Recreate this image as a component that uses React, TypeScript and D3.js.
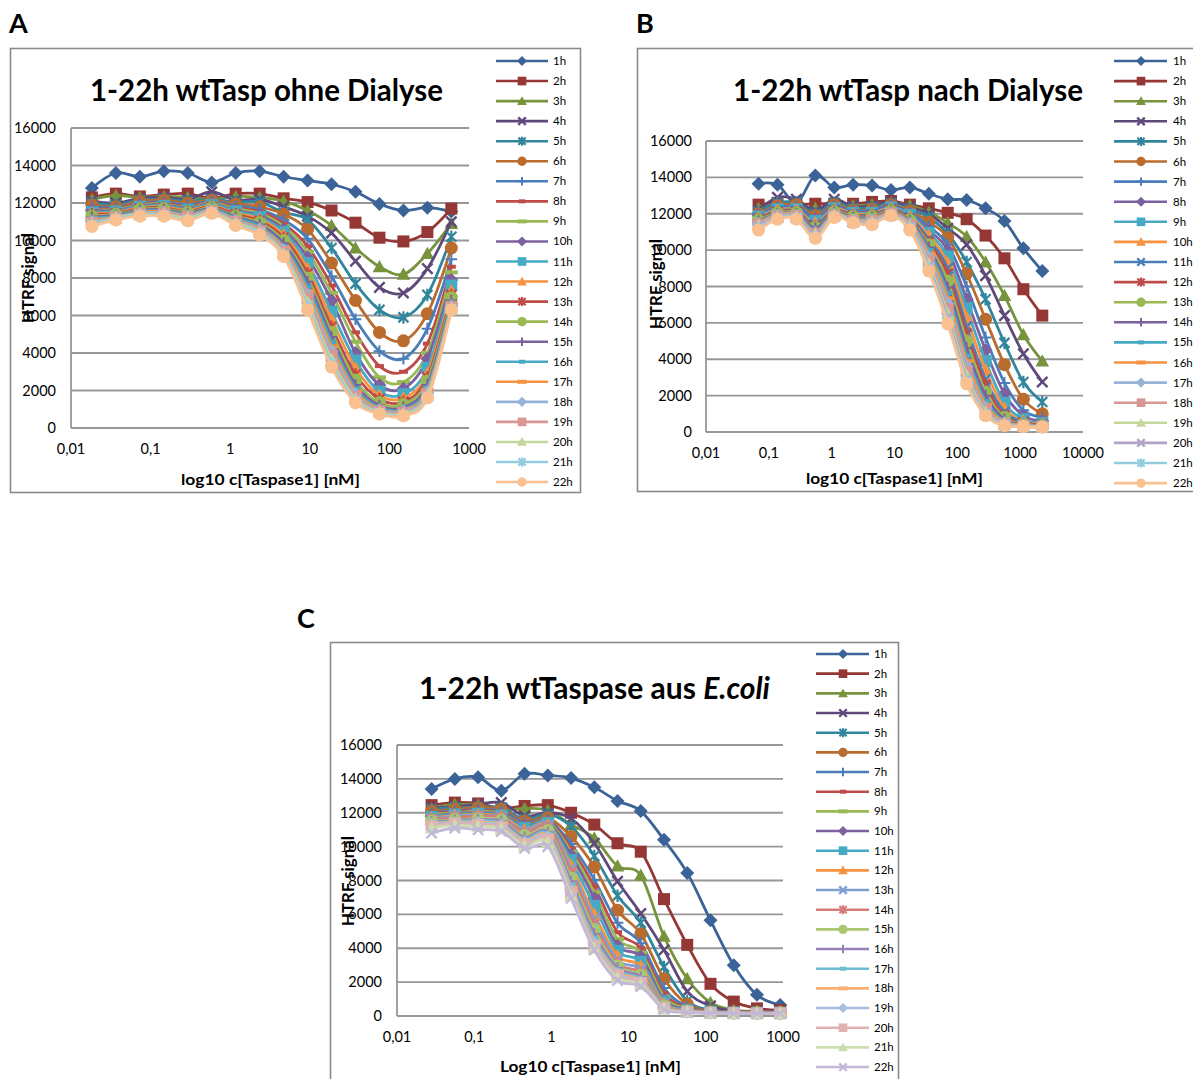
import React from 'react';
import * as d3 from 'd3';

// ---------- DATA ----------
const hours = ["1h","2h","3h","4h","5h","6h","7h","8h","9h","10h","11h","12h","13h","14h","15h","16h","17h","18h","19h","20h","21h","22h"];

const yTicks = [0, 2000, 4000, 6000, 8000, 10000, 12000, 14000, 16000];
const xTicksA = [0.01, 0.1, 1, 10, 100, 1000];
const xTickLabelsA = ["0,01", "0,1", "1", "10", "100", "1000"];
const xTicksB = [0.01, 0.1, 1, 10, 100, 1000, 10000];
const xTickLabelsB = ["0,01", "0,1", "1", "10", "100", "1000", "10000"];
const xTicksC = [0.01, 0.1, 1, 10, 100, 1000];
const xTickLabelsC = ["0,01", "0,1", "1", "10", "100", "1000"];

// concentrations [nM]
const concA = [0.01831, 0.03662, 0.07324, 0.1465, 0.293, 0.5859, 1.172, 2.344, 4.688, 9.375, 18.75, 37.5, 75, 150, 300, 600];
const concB = [0.06866, 0.1373, 0.2747, 0.5493, 1.099, 2.197, 4.395, 8.789, 17.58, 35.16, 70.31, 140.6, 281.3, 562.5, 1125, 2250];
const concC = [0.02808, 0.05615, 0.1123, 0.2246, 0.4492, 0.8984, 1.797, 3.594, 7.188, 14.38, 28.75, 57.5, 115, 230, 460, 920];

// A: wtTasp ohne Dialyse (rows = 1h..22h)
const valuesA: number[][] = [
  [12800,13600,13400,13700,13600,13100,13600,13700,13400,13200,13000,12600,11950,11600,11750,11550],
  [12300,12500,12350,12450,12500,12250,12500,12500,12250,12050,11600,10950,10150,9950,10450,11700],
  [12200,12400,12300,12350,12300,12200,12350,12300,12100,11600,10800,9600,8600,8200,9300,10900],
  [12100,12000,12250,12300,12200,12600,12150,12200,11800,11300,10400,8900,7500,7200,8500,11000],
  [12000,11900,12150,12200,12100,12200,12050,12050,11500,11100,9600,7700,6300,5900,7100,10200],
  [11900,11800,12100,12150,12000,12150,11950,11800,11400,10600,8800,6800,5100,4650,6100,9600],
  [11800,11750,12000,12050,11900,12100,11850,11650,11100,10100,8100,5800,4100,3700,5300,9000],
  [11700,11700,11950,12000,11800,12050,11750,11550,10900,9700,7600,5100,3300,3000,4500,8600],
  [11650,11650,11900,11950,11750,12000,11700,11450,10750,9400,7200,4600,2700,2450,4000,8300],
  [11600,11600,11850,11900,11700,11950,11600,11350,10600,9100,6800,4000,2300,2100,3700,7900],
  [11500,11550,11800,11850,11650,11900,11550,11250,10450,8800,6200,3600,1950,1800,3200,7600],
  [11450,11500,11750,11800,11600,11850,11450,11150,10300,8500,5800,3200,1750,1600,2900,7300],
  [11400,11450,11700,11750,11550,11800,11400,11050,10150,8250,5400,2850,1550,1400,2700,7100],
  [11300,11400,11650,11700,11500,11750,11300,10950,10000,8000,5100,2550,1350,1250,2500,6950],
  [11250,11350,11600,11650,11450,11700,11250,10850,9850,7800,4850,2300,1200,1100,2300,6800],
  [11200,11300,11550,11600,11400,11650,11200,10750,9700,7550,4600,2100,1100,1000,2150,6700],
  [11100,11250,11500,11550,11350,11600,11100,10650,9600,7300,4350,1950,1000,950,2000,6600],
  [11000,11250,11450,11500,11300,11600,11050,10600,9500,7100,4100,1800,950,900,1900,6500],
  [10950,11200,11400,11450,11250,11550,11000,10500,9400,6900,3850,1650,900,800,1800,6450],
  [10900,11200,11400,11400,11200,11500,10950,10450,9300,6700,3650,1550,850,750,1750,6400],
  [10850,11150,11350,11350,11100,11500,10850,10400,9200,6500,3450,1450,800,700,1650,6350],
  [10750,11100,11300,11300,11050,11450,10800,10300,9150,6300,3250,1350,750,650,1600,6300],
];

// B: wtTasp nach Dialyse
const valuesB: number[][] = [
  [13650,13600,12600,14100,13450,13600,13550,13300,13450,13100,12800,12750,12300,11600,10100,8850],
  [12500,12600,12500,12550,12550,12550,12650,12700,12500,12300,12050,11700,10800,9550,7850,6400],
  [12300,12500,12450,12300,12500,12450,12500,12600,12450,12100,11500,10750,9350,7500,5350,3900],
  [12200,12900,12800,12150,12800,12400,12450,12650,12350,12000,11200,10300,8600,6400,4300,2750],
  [12100,12600,12600,12000,12600,12300,12350,12550,12250,11800,10900,9350,7300,4900,2750,1650],
  [12000,12450,12500,11900,12500,12200,12250,12500,12150,11550,10700,8700,6200,3700,1800,1000],
  [11950,12350,12400,11800,12400,12150,12200,12450,12050,11300,10300,8000,5200,2700,1200,800],
  [11900,12300,12300,11700,12350,12100,12100,12400,12000,11100,10000,7300,4500,2100,900,600],
  [11850,12250,12250,11600,12300,12050,12050,12350,11950,10950,9650,6800,3900,1600,700,500],
  [11800,12200,12200,11500,12250,12000,12000,12300,11850,10800,9300,6300,3400,1300,600,450],
  [11750,12150,12150,11400,12200,11950,11950,12250,11800,10600,9000,5800,2900,1100,550,400],
  [11700,12100,12100,11300,12150,11900,11900,12200,11700,10450,8700,5400,2600,900,500,380],
  [11650,12050,12050,11250,12100,11850,11850,12150,11650,10300,8300,5000,2200,800,450,350],
  [11600,12000,12000,11200,12050,11800,11800,12100,11600,10150,7950,4600,2000,700,420,330],
  [11550,11980,11980,11100,12000,11750,11750,12050,11550,10000,7650,4200,1700,600,400,320],
  [11500,11950,11950,11000,11980,11700,11700,12050,11500,9800,7350,3900,1500,550,380,310],
  [11450,11900,11900,10950,11950,11650,11650,12000,11450,9600,7050,3600,1300,500,360,300],
  [11400,11850,11850,10900,11900,11600,11600,12000,11350,9400,6750,3300,1200,450,340,290],
  [11350,11800,11800,10850,11900,11600,11550,11950,11300,9250,6500,3100,1100,420,320,280],
  [11300,11780,11780,10800,11850,11550,11500,11950,11250,9100,6300,2900,1000,400,310,270],
  [11200,11750,11750,10700,11850,11500,11450,11900,11200,9000,6100,2800,950,380,300,260],
  [11100,11700,11700,10650,11800,11500,11400,11900,11100,8850,5950,2650,900,350,300,270],
];

// C: wtTaspase aus E.coli
const valuesC: number[][] = [
  [13400,14000,14100,13300,14300,14200,14050,13500,12700,12100,10400,8450,5650,3000,1250,650],
  [12450,12600,12550,12250,12400,12450,12000,11300,10200,9700,6900,4200,1900,850,450,350],
  [12250,12500,12450,12150,12250,12150,11300,10500,8850,8300,4700,2200,800,350,280,260],
  [12300,12350,12500,12600,11800,12000,11650,10200,7950,6050,3900,1450,600,300,260,250],
  [12200,12300,12300,12300,11600,11900,11200,9450,7100,5500,2900,900,350,270,250,240],
  [12100,12200,12300,12200,11500,11700,10600,8800,6250,4850,2200,700,300,250,240,230],
  [12000,12100,12200,12100,11400,11600,10150,8050,5500,4300,1650,550,280,240,230,220],
  [11950,12050,12150,12000,11300,11550,9900,7650,4950,4000,1350,480,270,230,220,210],
  [11900,12000,12100,11950,11250,11500,9700,7300,4550,3750,1150,420,260,220,210,200],
  [11800,11950,12000,11900,11200,11450,9500,6950,4150,3500,950,380,250,210,200,200],
  [11750,11900,11950,11850,11100,11400,9200,6500,3850,3200,850,350,240,200,190,190],
  [11700,11850,11900,11800,11000,11300,8900,6000,3550,2950,750,330,230,200,190,190],
  [11650,11800,11850,11750,10900,11250,8700,5700,3300,2750,700,320,220,190,180,180],
  [11600,11700,11800,11700,10800,11150,8450,5400,3100,2550,650,300,210,190,180,180],
  [11500,11600,11650,11550,10650,10950,8150,5100,2950,2400,600,290,200,180,170,170],
  [11450,11550,11600,11500,10550,10850,7950,4850,2850,2300,560,280,200,180,170,170],
  [11400,11500,11550,11400,10450,10750,7750,4600,2700,2200,520,270,190,170,160,160],
  [11350,11450,11450,11300,10350,10650,7550,4400,2600,2100,500,260,190,170,160,160],
  [11300,11400,11400,11250,10250,10550,7400,4250,2500,2000,480,250,180,160,150,150],
  [11200,11350,11300,11150,10150,10400,7250,4100,2400,1950,460,240,180,160,150,150],
  [11100,11250,11200,11050,10050,10250,7100,4000,2250,1850,440,230,170,150,150,150],
  [10800,11100,11000,10900,9900,10000,6950,3900,2100,1750,400,220,170,150,150,150],
];

// ---------- STYLES ----------
const D = ["#3B6398", "#953735", "#77933C", "#5F497A", "#31859C", "#BA6C2E"];
const N = ["#4A7EBB", "#BE4B48", "#98B954", "#7D60A0", "#46AAC5", "#F69240"];
const L = ["#95B3D7", "#D99694", "#C3D69B", "#B3A2C7", "#93CDDD", "#FAC090"];
const M = ["#7F9FD2", "#D57B79", "#A9C670", "#9881B6", "#6FBCD2", "#F9AE72"];
const P = ["#A7BEDE", "#E0B2B0", "#CCDDB0", "#C4B8D8"];

const colorsA = [...D, ...N, N[1], N[2], N[3], N[4], N[5], L[0], L[1], L[2], L[4], L[5]];
const colorsB = [...D, N[0], N[3], N[4], N[5], N[0], N[1], N[2], N[3], N[4], N[5], L[0], L[1], L[2], L[3], L[4], L[5]];
const colorsC = [...D, ...N, ...M, ...P];

type Mk = 'diamond' | 'square' | 'triangle' | 'x' | 'star' | 'circle' | 'plus' | 'dash' | 'longdash';
const base9: Mk[] = ['diamond', 'square', 'triangle', 'x', 'star', 'circle', 'plus', 'dash', 'longdash'];
const markersA: Mk[] = [...base9, 'diamond', 'square', 'triangle', 'star', 'circle', 'plus', 'dash', 'longdash', 'diamond', 'square', 'triangle', 'star', 'circle'];
const markersB: Mk[] = ['diamond', 'square', 'triangle', 'x', 'star', 'circle', 'plus', 'diamond', 'square', 'triangle', 'x', 'star', 'circle', 'plus', 'dash', 'longdash', 'diamond', 'square', 'triangle', 'x', 'star', 'circle'];
const markersC: Mk[] = [...base9, 'diamond', 'square', 'triangle', 'x', 'star', 'circle', 'plus', 'dash', 'longdash', 'diamond', 'square', 'triangle', 'x'];

const FONT = "Lato, 'Liberation Sans', Arial, sans-serif";

function marker(type: Mk, cx: number, cy: number, color: string, s: number, key: string) {
  switch (type) {
    case 'diamond': {
      const r = 7 * s;
      return <path key={key} d={`M${cx},${cy - r}L${cx + r},${cy}L${cx},${cy + r}L${cx - r},${cy}Z`} fill={color} />;
    }
    case 'square': {
      const r = 6 * s;
      return <rect key={key} x={cx - r} y={cy - r} width={2 * r} height={2 * r} fill={color} />;
    }
    case 'triangle': {
      const r = 6.8 * s;
      return <path key={key} d={`M${cx},${cy - r}L${cx + r},${cy + r * 0.8}L${cx - r},${cy + r * 0.8}Z`} fill={color} />;
    }
    case 'circle':
      return <circle key={key} cx={cx} cy={cy} r={6.5 * s} fill={color} />;
    case 'x': {
      const r = 5.2 * s;
      return <path key={key} d={`M${cx - r},${cy - r}L${cx + r},${cy + r}M${cx - r},${cy + r}L${cx + r},${cy - r}`} stroke={color} strokeWidth={2.4} fill="none" />;
    }
    case 'star': {
      const r = 5 * s;
      return <path key={key} d={`M${cx - r},${cy - r}L${cx + r},${cy + r}M${cx - r},${cy + r}L${cx + r},${cy - r}M${cx},${cy - r * 1.25}L${cx},${cy + r * 1.25}`} stroke={color} strokeWidth={2.2} fill="none" />;
    }
    case 'plus': {
      const r = 5.8 * s;
      return <path key={key} d={`M${cx - r},${cy}L${cx + r},${cy}M${cx},${cy - r}L${cx},${cy + r}`} stroke={color} strokeWidth={2} fill="none" />;
    }
    case 'dash':
      return <rect key={key} x={cx - 4.5 * s} y={cy - 2} width={9 * s} height={4} fill={color} />;
    case 'longdash':
      return <rect key={key} x={cx - 6.5 * s} y={cy - 2} width={13 * s} height={4} fill={color} />;
  }
  return null;
}

interface Cfg {
  label: string; labelX: number; labelY: number;
  frame: [number, number, number, number];
  px0: number; px1: number; py0: number; py1: number;
  xDomain: [number, number];
  xTicks: number[]; xTickLabels: string[];
  yLabelRight: number; xLabelY: number;
  title: React.ReactNode; titleX: number; titleY: number; titleLen: number;
  xTitle: string; xTitleX: number; xTitleY: number; xTitleLen: number;
  yTitleX: number; yTitleY: number;
  legX0: number; legX1: number; legMX: number; legTX: number; legY0: number; legDY: number;
  conc: number[]; values: number[][]; colors: string[]; markers: Mk[];
}

function Panel({ c }: { c: Cfg }) {
  const xs = d3.scaleLog().domain(c.xDomain).range([c.px0, c.px1]);
  const ys = d3.scaleLinear().domain([0, 16000]).range([c.py1, c.py0]);
  const line = d3.line<number>()
    .x((_, i) => xs(c.conc[i]))
    .y(d => ys(d))
    .curve(d3.curveCardinal.tension(0));
  const grid = '#979797';
  return (
    <g fontFamily={FONT}>
      <text x={c.labelX} y={c.labelY} fontSize={27} fontWeight="bold" fill="#000">{c.label}</text>
      <rect x={c.frame[0]} y={c.frame[1]} width={c.frame[2]} height={c.frame[3]} fill="#fff" stroke="#8a8a8a" strokeWidth={1.6} />
      {yTicks.map(t => (
        <g key={'y' + t}>
          <line x1={c.px0} x2={c.px1} y1={ys(t)} y2={ys(t)} stroke={grid} strokeWidth={1.8} />
          <text x={c.yLabelRight} y={ys(t) + 5} fontSize={14.5} textAnchor="end" fill="#000">{t}</text>
        </g>
      ))}
      <line x1={c.px0} x2={c.px0} y1={c.py0} y2={c.py1} stroke={grid} strokeWidth={1.8} />
      {c.xTicks.map((t, i) => (
        <text key={'x' + t} x={xs(t)} y={c.xLabelY} fontSize={14.5} textAnchor="middle" fill="#000">{c.xTickLabels[i]}</text>
      ))}
      <text x={c.titleX} y={c.titleY} fontSize={30} fontWeight="bold" textAnchor="middle" textLength={c.titleLen} lengthAdjust="spacingAndGlyphs" fill="#000">{c.title}</text>
      <text x={c.xTitleX} y={c.xTitleY} fontSize={16} fontWeight="bold" textAnchor="middle" textLength={c.xTitleLen} lengthAdjust="spacingAndGlyphs" fill="#000">{c.xTitle}</text>
      <text transform={`translate(${c.yTitleX},${c.yTitleY}) rotate(-90)`} fontSize={17} fontWeight="bold" textAnchor="middle" textLength={90} lengthAdjust="spacingAndGlyphs" fill="#000">HTRF signal</text>
      {c.values.map((vals, si) => (
        <g key={'s' + si}>
          <path d={line(vals) || ''} fill="none" stroke={c.colors[si]} strokeWidth={2.8} />
          {vals.map((v, i) => marker(c.markers[si], xs(c.conc[i]), ys(v), c.colors[si], 1, `m${si}-${i}`))}
        </g>
      ))}
      {hours.map((h, i) => {
        const y = c.legY0 + i * c.legDY;
        return (
          <g key={'l' + h}>
            <line x1={c.legX0} x2={c.legX1} y1={y} y2={y} stroke={c.colors[i]} strokeWidth={2.6} />
            {marker(c.markers[i], c.legMX, y, c.colors[i], 0.72, 'lm' + i)}
            <text x={c.legTX} y={y + 4} fontSize={11.5} fill="#000">{h}</text>
          </g>
        );
      })}
    </g>
  );
}

const cfgA: Cfg = {
  label: 'A', labelX: 9, labelY: 33,
  frame: [10.5, 48.5, 570, 444],
  px0: 71, px1: 469, py0: 128, py1: 428,
  xDomain: [0.01, 1000], xTicks: xTicksA, xTickLabels: xTickLabelsA,
  yLabelRight: 56, xLabelY: 454,
  title: '1-22h wtTasp ohne Dialyse', titleX: 266.5, titleY: 101, titleLen: 353,
  xTitle: 'log10 c[Taspase1] [nM]', xTitleX: 270.5, xTitleY: 485, xTitleLen: 179,
  yTitleX: 34, yTitleY: 278,
  legX0: 496, legX1: 548, legMX: 522, legTX: 553, legY0: 61, legDY: 20.05,
  conc: concA, values: valuesA, colors: colorsA, markers: markersA,
};

const cfgB: Cfg = {
  label: 'B', labelX: 636, labelY: 33,
  frame: [637.5, 48.5, 580, 443],
  px0: 706, px1: 1083, py0: 141, py1: 432,
  xDomain: [0.01, 10000], xTicks: xTicksB, xTickLabels: xTickLabelsB,
  yLabelRight: 692, xLabelY: 458,
  title: '1-22h wtTasp nach Dialyse', titleX: 908, titleY: 101, titleLen: 350,
  xTitle: 'log10 c[Taspase1] [nM]', xTitleX: 894.5, xTitleY: 484, xTitleLen: 177,
  yTitleX: 662, yTitleY: 284,
  legX0: 1114, legX1: 1167, legMX: 1141, legTX: 1173, legY0: 61, legDY: 20.1,
  conc: concB, values: valuesB, colors: colorsB, markers: markersB,
};

const cfgC: Cfg = {
  label: 'C', labelX: 297, labelY: 628,
  frame: [330.5, 642.5, 568, 460],
  px0: 397, px1: 783, py0: 745, py1: 1016,
  xDomain: [0.01, 1000], xTicks: xTicksC, xTickLabels: xTickLabelsC,
  yLabelRight: 382, xLabelY: 1042,
  title: <>{'1-22h wtTaspase aus '}<tspan fontStyle="italic">E.coli</tspan></>, titleX: 594.5, titleY: 699, titleLen: 351,
  xTitle: 'Log10 c[Taspase1] [nM]', xTitleX: 590.5, xTitleY: 1072, xTitleLen: 181,
  yTitleX: 354, yTitleY: 881,
  legX0: 816, legX1: 869, legMX: 843, legTX: 874, legY0: 654, legDY: 19.67,
  conc: concC, values: valuesC, colors: colorsC, markers: markersC,
};

export default function App() {
  return (
    <svg width={1193} height={1079} viewBox="0 0 1193 1079" style={{ position: 'absolute', left: 0, top: 0, background: '#fff' }}>
      <rect x={0} y={0} width={1193} height={1079} fill="#fff" />
      <Panel c={cfgA} />
      <Panel c={cfgB} />
      <Panel c={cfgC} />
    </svg>
  );
}
